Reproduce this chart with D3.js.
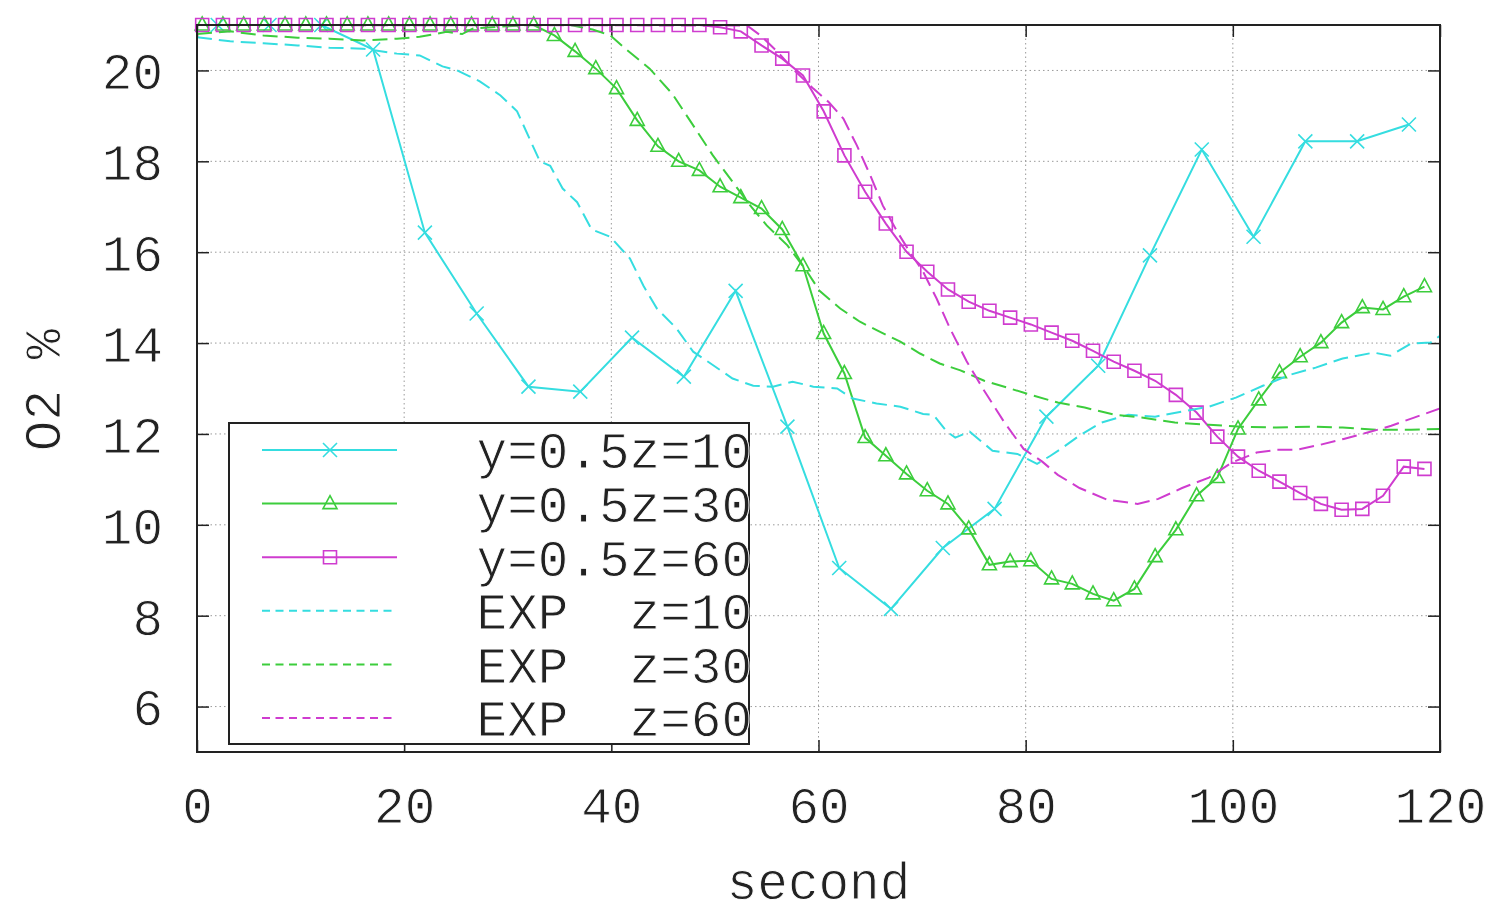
<!DOCTYPE html>
<html>
<head>
<meta charset="utf-8">
<script src="https://cdn.jsdelivr.net/npm/d3@7"></script>
<style>
  html, body { margin: 0; padding: 0; background: #fff; }
  svg { display: block; }
  text { font-family: 'Liberation Mono', 'Courier New', monospace; fill: #222; }
</style>
</head>
<body>
<svg id="chart" width="1492" height="916"></svg>
<script>
// ---------- DATA ----------
const xTicks = [0, 20, 40, 60, 80, 100, 120];
const yTicks = [6, 8, 10, 12, 14, 16, 18, 20];
const legendLabels = ["y=0.5z=10", "y=0.5z=30", "y=0.5z=60", "EXP  z=10", "EXP  z=30", "EXP  z=60"];

// simulation, y=0.5 z=10 (every 5 s)
const timeSimA = [2, 7, 12, 17, 22, 27, 32, 37, 42, 47, 52, 57, 62, 67, 72, 77, 82, 87, 92, 97, 102, 107, 112, 117];
const o2SimZ10 = [21, 21, 21, 20.46, 16.43, 14.65, 13.04, 12.93, 14.12, 13.26, 15.15, 12.16, 9.05, 8.15, 9.49, 10.35, 12.38, 13.5, 15.93, 18.26, 16.34, 18.44, 18.44, 18.81];

// simulation, y=0.5 z=30 and z=60 (every 2 s)
const timeSimB = [0.5, 2.5, 4.5, 6.5, 8.5, 10.5, 12.5, 14.5, 16.5, 18.5, 20.5, 22.5, 24.5, 26.5, 28.5, 30.5, 32.5, 34.5, 36.5, 38.5,
  40.5, 42.5, 44.5, 46.5, 48.5, 50.5, 52.5, 54.5, 56.5, 58.5, 60.5, 62.5, 64.5, 66.5, 68.5, 70.5, 72.5, 74.5, 76.5, 78.5,
  80.5, 82.5, 84.5, 86.5, 88.5, 90.5, 92.5, 94.5, 96.5, 98.5, 100.5, 102.5, 104.5, 106.5, 108.5, 110.5, 112.5, 114.5, 116.5, 118.5];
const o2SimZ30 = [21, 21, 21, 21, 21, 21, 21, 21, 21, 21, 21, 21, 21, 21, 21, 21, 21, 20.77, 20.42, 20.04,
  19.6, 18.9, 18.33, 18.0, 17.8, 17.44, 17.2, 16.96, 16.5, 15.7, 14.21, 13.33, 11.92, 11.52, 11.12, 10.75, 10.46, 9.91, 9.12, 9.19,
  9.21, 8.81, 8.7, 8.48, 8.33, 8.59, 9.3, 9.89, 10.64, 11.04, 12.11, 12.75, 13.35, 13.7, 14.01, 14.45, 14.78, 14.74, 15.02, 15.24];
const o2SimZ60 = [21, 21, 21, 21, 21, 21, 21, 21, 21, 21, 21, 21, 21, 21, 21, 21, 21, 21, 21, 21,
  21, 21, 21, 21, 21, 20.95, 20.86, 20.55, 20.26, 19.89, 19.1, 18.13, 17.33, 16.63, 16.01, 15.57, 15.18, 14.91, 14.71, 14.56,
  14.41, 14.23, 14.05, 13.83, 13.59, 13.39, 13.17, 12.86, 12.47, 11.94, 11.5, 11.19, 10.95, 10.7, 10.46, 10.33, 10.35, 10.64, 11.28, 11.23];

// experiment z=10
const timeExpZ10 = [0, 3.2, 6.4, 9.7, 12.8, 16, 19.3, 21.5, 23.7, 25.1, 27.3, 29.3, 30.9, 32.1, 33.1, 34.1, 35.3, 36.7, 38.1, 39.9,
  41.8, 43.1, 44.4, 46.3, 47.9, 49.2, 51.7, 53.7, 55.6, 57.5, 59.5, 61.8, 63.3, 65.6, 67.9, 70.1, 71.1, 72.4, 73.2, 74.6,
  76.8, 79.2, 81.1, 82.4, 83.4, 85.3, 87.3, 89.9, 92.5, 95.1, 97.7, 100.3, 102.9, 105.5, 108, 110.6, 113.6, 115.2, 117.2, 119.1, 120];
const o2ExpZ10 = [20.73, 20.64, 20.6, 20.55, 20.5, 20.48, 20.37, 20.33, 20.09, 20.0, 19.76, 19.45, 19.1, 18.5, 18.0, 17.9, 17.4, 17.1, 16.5, 16.34,
  15.86, 15.26, 14.76, 14.32, 13.81, 13.61, 13.22, 13.06, 13.04, 13.15, 13.04, 13.0, 12.78, 12.67, 12.6, 12.44, 12.42, 12.05, 11.92, 12.05,
  11.63, 11.56, 11.34, 11.52, 11.67, 11.98, 12.25, 12.42, 12.38, 12.49, 12.6, 12.8, 13.06, 13.3, 13.46, 13.66, 13.79, 13.72, 13.99, 14.01, 14.16];

// experiment z=30
const timeExpZ30 = [0, 3.2, 6.4, 9.7, 12.8, 16, 19.3, 21.5, 24.1, 25.6, 26.6, 28.9, 32, 36, 38.2, 39.9, 41.5, 43.7, 45.9, 47.9,
  49.8, 51.7, 53.4, 55.0, 57.0, 58.9, 60.1, 62.1, 64.0, 65.9, 67.9, 69.8, 71.7, 73.7, 76.0, 78.2, 80.8, 83.1, 85.7, 88.6,
  91.2, 94.4, 97.7, 100.9, 104.2, 107.5, 110.6, 113.9, 117.2, 120];
const o2ExpZ30 = [20.8, 20.86, 20.77, 20.72, 20.7, 20.66, 20.7, 20.74, 20.85, 20.8, 20.92, 20.96, 21, 21, 20.9, 20.77, 20.45, 20.04, 19.48, 18.79,
  18.13, 17.55, 17.03, 16.59, 16.15, 15.57, 15.15, 14.76, 14.47, 14.25, 14.03, 13.77, 13.55, 13.4, 13.17, 13.02, 12.84, 12.69, 12.58, 12.42,
  12.36, 12.25, 12.2, 12.16, 12.14, 12.16, 12.14, 12.09, 12.09, 12.11];

// experiment z=60
const timeExpZ60 = [0, 53.1, 54.4, 56.0, 57.5, 59.5, 61.0, 62.4, 63.7, 65.0, 66.2, 67.6, 68.8, 70.1, 71.4, 72.7, 74.3, 76.0, 77.9, 79.8,
  81.6, 83.1, 85.2, 87.9, 90.8, 92.8, 95.1, 97.7, 99.9, 102.3, 104.2, 106.1, 108.4, 110.7, 113.0, 115.3, 117.5, 120];
const o2ExpZ60 = [21, 20.99, 20.77, 20.42, 20.04, 19.6, 19.3, 18.94, 18.35, 17.69, 17.03, 16.45, 16.01, 15.57, 14.98, 14.32, 13.6, 12.95, 12.27, 11.67,
  11.39, 11.1, 10.81, 10.55, 10.46, 10.57, 10.81, 11.04, 11.37, 11.59, 11.65, 11.65, 11.76, 11.89, 12.03, 12.18, 12.36, 12.56];

// ---------- CHART ----------
const COLORS = { cyan: "#35dde0", green: "#3ccd3c", magenta: "#cf3ccf" };
const series = [
  { t: timeSimA, v: o2SimZ10, color: COLORS.cyan, dashed: false, marker: "x" },
  { t: timeSimB, v: o2SimZ30, color: COLORS.green, dashed: false, marker: "tri" },
  { t: timeSimB, v: o2SimZ60, color: COLORS.magenta, dashed: false, marker: "sq" },
  { t: timeExpZ10, v: o2ExpZ10, color: COLORS.cyan, dashed: true, marker: null },
  { t: timeExpZ30, v: o2ExpZ30, color: COLORS.green, dashed: true, marker: null },
  { t: timeExpZ60, v: o2ExpZ60, color: COLORS.magenta, dashed: true, marker: null }
];

const svg = d3.select("#chart");
const L = 197, R = 1440, T = 25, B = 752;
const x = d3.scaleLinear().domain([0, 120]).range([L, R]);
const y = d3.scaleLinear().domain([5, 21]).range([B, T]);
const FS = 51;

const markerPath = {
  x: "M-7,-7L7,7M-7,7L7,-7",
  tri: "M0,-8L7,5L-7,5Z",
  sq: "M-6.5,-6.5H6.5V6.5H-6.5Z"
};

function thinText(sel) {
  sel.style("font-family", "'Liberation Mono', 'Courier New', monospace")
    .attr("font-size", FS).attr("fill", "#2a2a2a")
    .attr("stroke", "#fff").attr("stroke-width", 0.9);
}

svg.append("defs").append("clipPath").attr("id", "clip")
  .append("rect").attr("x", L).attr("y", T - 1).attr("width", R - L).attr("height", B - T + 2);

// grid
const grid = svg.append("g").attr("stroke", "#9a9a9a").attr("stroke-width", 1).attr("stroke-dasharray", "1.5,3");
grid.selectAll(".gx").data(xTicks.filter(d => d > 0 && d < 120)).join("line")
  .attr("x1", d => x(d)).attr("x2", d => x(d)).attr("y1", T).attr("y2", B);
grid.selectAll(".gy").data(yTicks).join("line")
  .attr("x1", L).attr("x2", R).attr("y1", d => y(d)).attr("y2", d => y(d));

// axes (ticks inside, mirrored)
const tk = 12;
const axB = svg.append("g").attr("transform", `translate(0,${B})`)
  .call(d3.axisBottom(x).tickValues(xTicks).tickSize(-tk).tickPadding(35).tickFormat(d3.format("d")));
const axT = svg.append("g").attr("transform", `translate(0,${T})`)
  .call(d3.axisTop(x).tickValues(xTicks).tickSize(-tk).tickFormat(""));
const axL = svg.append("g").attr("transform", `translate(${L},0)`)
  .call(d3.axisLeft(y).tickValues(yTicks).tickSize(-tk).tickPadding(34).tickFormat(d3.format("d")));
const axR = svg.append("g").attr("transform", `translate(${R},0)`)
  .call(d3.axisRight(y).tickValues(yTicks).tickSize(-tk).tickFormat(""));
[axB, axT, axL, axR].forEach(a => {
  a.select(".domain").remove();
  a.selectAll(".tick line").attr("stroke", "#222").attr("stroke-width", 1.5);
  a.selectAll("text").call(thinText);
});
axL.selectAll("text").attr("dy", "0.36em");

// series
const plot = svg.append("g");
series.forEach(s => {
  const pts = s.t.map((t, i) => [t, s.v[i]]);
  const line = d3.line().x(d => x(d[0])).y(d => y(d[1]));
  plot.append("path").datum(pts).attr("clip-path", "url(#clip)")
    .attr("d", line).attr("fill", "none").attr("stroke", s.color).attr("stroke-width", 2)
    .attr("stroke-dasharray", s.dashed ? "15,7" : null);
  if (s.marker) {
    plot.append("g").selectAll("path").data(pts).join("path")
      .attr("transform", d => `translate(${x(d[0])},${y(d[1])})`)
      .attr("d", markerPath[s.marker]).attr("fill", "none")
      .attr("stroke", s.color).attr("stroke-width", 1.6);
  }
});

// border
svg.append("rect").attr("x", L).attr("y", T).attr("width", R - L).attr("height", B - T)
  .attr("fill", "none").attr("stroke", "#222").attr("stroke-width", 2);

// legend
const lg = svg.append("g");
lg.append("rect").attr("x", 229).attr("y", 423).attr("width", 520).attr("height", 321)
  .attr("fill", "#fff").attr("stroke", "#222").attr("stroke-width", 2);
series.forEach((s, i) => {
  const yy = 450 + i * 53.6;
  lg.append("line").attr("x1", 262).attr("x2", 397).attr("y1", yy).attr("y2", yy)
    .attr("stroke", s.color).attr("stroke-width", 2)
    .attr("stroke-dasharray", s.dashed ? "8,5.5" : null);
  if (s.marker) {
    lg.append("path").attr("transform", `translate(330,${yy})`).attr("d", markerPath[s.marker])
      .attr("fill", "none").attr("stroke", s.color).attr("stroke-width", 1.6);
  }
  lg.append("text").attr("x", 752).attr("y", yy).attr("dy", "0.36em")
    .attr("text-anchor", "end")
    .attr("xml:space", "preserve").style("white-space", "pre")
    .text(legendLabels[i]).call(thinText);
});

// axis titles
svg.append("text").attr("x", x(60)).attr("y", 899).attr("text-anchor", "middle")
  .text("second").call(thinText);
svg.append("text").attr("transform", `translate(60,${390}) rotate(-90)`)
  .attr("text-anchor", "middle").text("O2 %").call(thinText);
</script>
</body>
</html>
